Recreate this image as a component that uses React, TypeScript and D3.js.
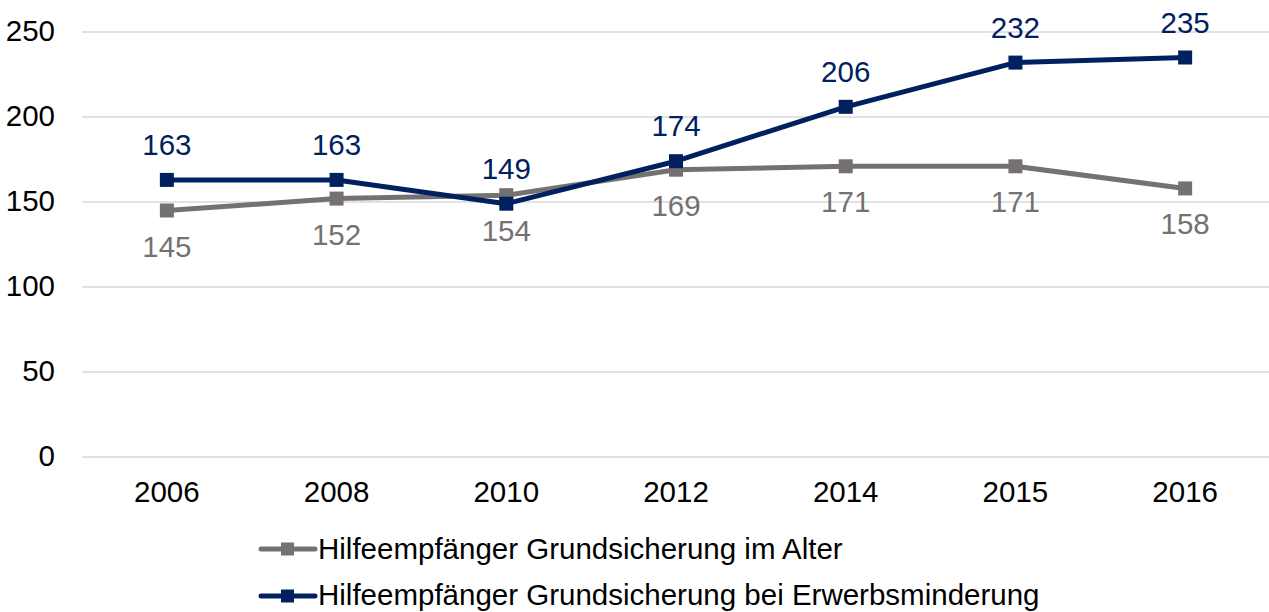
import React from "react";
import * as d3 from "d3";

const categories = ["2006", "2008", "2010", "2012", "2014", "2015", "2016"];
const alterValues = [145, 152, 154, 169, 171, 171, 158];
const erwerbValues = [163, 163, 149, 174, 206, 232, 235];
const yTicks = [0, 50, 100, 150, 200, 250];
const seriesNames = [
  "Hilfeempfänger Grundsicherung im Alter",
  "Hilfeempfänger Grundsicherung bei Erwerbsminderung",
];

const W = 1269;
const H = 612;
const FONT = "'Liberation Sans', Arial, sans-serif";
const FS = 29.5;
const GRAY = "#767171";
const NAVY = "#002060";

export default function App() {
  const x = d3.scaleBand<string>().domain(categories).range([82, 1270]);
  const y = d3.scaleLinear().domain([0, 250]).range([457, 32]);
  const cx = (c: string) => (x(c) as number) + x.bandwidth() / 2;
  const line = d3
    .line<number>()
    .x((_, i) => cx(categories[i]))
    .y((d) => y(d));

  const series = [
    { name: seriesNames[0], values: alterValues, color: GRAY, dy: 46 },
    { name: seriesNames[1], values: erwerbValues, color: NAVY, dy: -25 },
  ];
  const legendRows = [
    { line: 549, base: 559 },
    { line: 596, base: 605 },
  ];

  return (
    <svg
      width={W}
      height={H}
      style={{ position: "absolute", left: 0, top: 0, background: "#fff" }}
      fontFamily={FONT}
    >
      {yTicks.map((t) => (
        <g key={t}>
          <line x1={82} x2={1269} y1={y(t)} y2={y(t)} stroke="#d9d9d9" strokeWidth={1.5} />
          <text x={55} y={y(t)} dy="0.31em" textAnchor="end" fontSize={FS} fill="#000">
            {t}
          </text>
        </g>
      ))}
      {categories.map((c) => (
        <text key={c} x={cx(c)} y={502} textAnchor="middle" fontSize={FS} fill="#000">
          {c}
        </text>
      ))}
      {series.map((s) => (
        <g key={s.name}>
          <path d={line(s.values) || ""} fill="none" stroke={s.color} strokeWidth={5} strokeLinejoin="round" />
          {s.values.map((v, i) => (
            <rect key={i} x={cx(categories[i]) - 7} y={y(v) - 7} width={14} height={14} fill={s.color} />
          ))}
        </g>
      ))}
      {series.map((s) =>
        s.values.map((v, i) => (
          <text
            key={s.name + i}
            x={cx(categories[i])}
            y={y(v) + s.dy}
            textAnchor="middle"
            fontSize={FS}
            fill={s.color}
          >
            {v}
          </text>
        ))
      )}
      {series.map((s, i) => {
        const r = legendRows[i];
        return (
          <g key={"leg" + i}>
            <line x1={261} x2={315} y1={r.line} y2={r.line} stroke={s.color} strokeWidth={5} strokeLinecap="round" />
            <rect x={281} y={r.line - 6.5} width={13} height={13} fill={s.color} />
            <text x={318} y={r.base} fontSize={FS} fill="#000">
              {s.name}
            </text>
          </g>
        );
      })}
    </svg>
  );
}
